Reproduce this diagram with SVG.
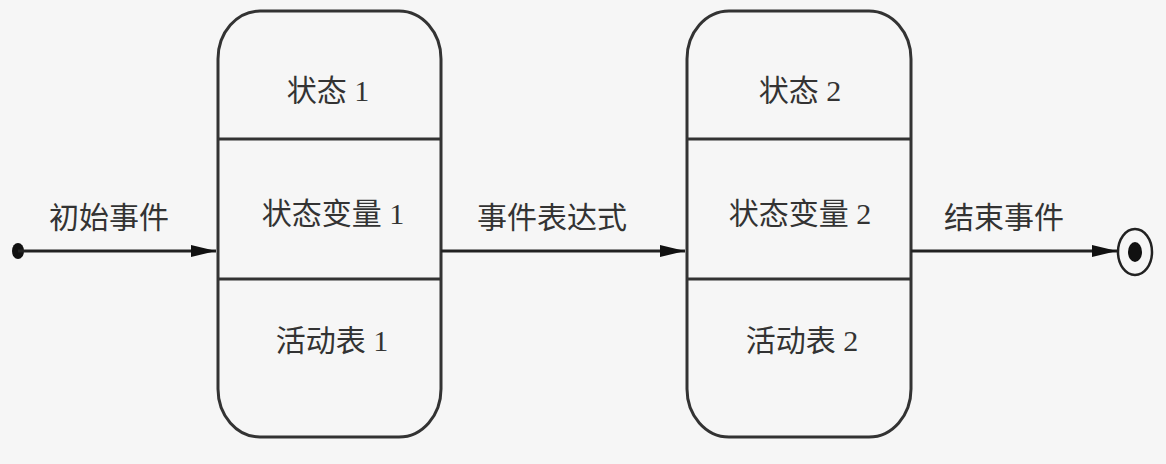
<svg xmlns="http://www.w3.org/2000/svg" width="1166" height="464" viewBox="0 0 1166 464">
<defs>
<style>
.box{fill:none;stroke:#333;stroke-width:3}
.div{stroke:#333;stroke-width:3}
.ln{stroke:#222;stroke-width:3;fill:none}
text{font-family:"Liberation Serif","Noto Sans CJK SC",serif;font-size:30px;fill:#333;text-anchor:middle}
</style>
<marker id="ah" viewBox="0 0 25 12" refX="25" refY="6" markerWidth="25" markerHeight="12" markerUnits="userSpaceOnUse" orient="auto">
<path d="M0,0 L25,6 L0,12 Z" fill="#111"/>
</marker>
</defs>
<rect width="1166" height="464" fill="#f6f6f6"/>
<g id="start"><ellipse cx="18" cy="251" rx="6" ry="8" fill="#111"/></g>
<g id="state1">
<rect class="box" x="218" y="11" width="223" height="426" rx="42" ry="48"/>
<line class="div" x1="218" y1="139" x2="441" y2="139"/>
<line class="div" x1="218" y1="279" x2="441" y2="279"/>
<text x="328" y="101">状态 1</text>
<text x="333" y="224">状态变量 1</text>
<text x="332" y="351">活动表 1</text>
</g>
<g id="state2">
<rect class="box" x="687" y="11" width="224" height="426" rx="42" ry="48"/>
<line class="div" x1="687" y1="139" x2="911" y2="139"/>
<line class="div" x1="687" y1="279" x2="911" y2="279"/>
<text x="800" y="101">状态 2</text>
<text x="800" y="224">状态变量 2</text>
<text x="802" y="351">活动表 2</text>
</g>
<g id="end">
<ellipse cx="1135" cy="252" rx="17" ry="23" fill="none" stroke="#222" stroke-width="2.5"/>
<ellipse cx="1135" cy="252" rx="7" ry="10" fill="#111"/>
</g>
<g id="connectors">
<line class="ln" x1="18" y1="251" x2="216" y2="251" marker-end="url(#ah)"/>
<text x="109" y="228">初始事件</text>
<line class="ln" x1="441" y1="251" x2="685" y2="251" marker-end="url(#ah)"/>
<text x="552" y="228">事件表达式</text>
<line class="ln" x1="911" y1="251" x2="1117" y2="251" marker-end="url(#ah)"/>
<text x="1004" y="228">结束事件</text>
</g>
</svg>
